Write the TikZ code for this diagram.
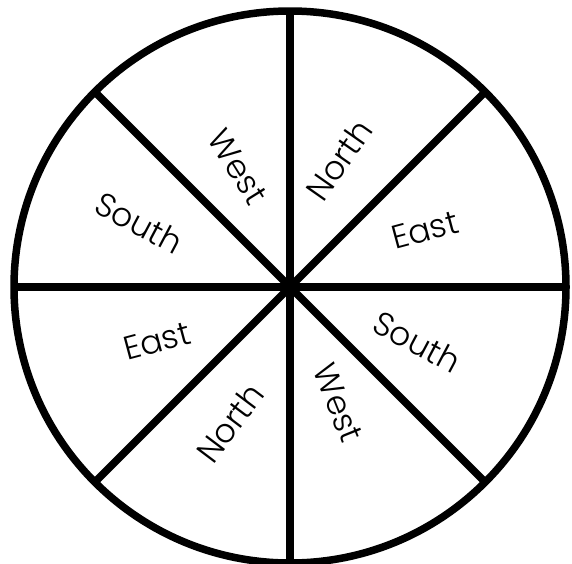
\documentclass[tikz,border=0pt]{standalone}
\usepackage{fontspec}
\setmainfont{Poppins}[UprightFont={* Light}]
\usepackage{tikz}
\usetikzlibrary{calc}

\begin{document}
\begin{tikzpicture}[
  x=1pt, y=-1pt,
  rim/.style={line width=7.5pt},
  spoke/.style={line width=7.5pt},
  word/.style={font=\fontsize{33}{36}\selectfont, inner sep=0pt},
]
  \useasboundingbox (0,0) rectangle (572,563);
  \coordinate (c) at (290,287);
  \draw[rim] (c) circle (276);
  \foreach \a in {0,45,...,315}
    \coordinate (e\a) at ($(c)+(\a:276)$);
  \foreach \a in {0,45,...,315}
    \draw[spoke] (c) -- (e\a);

  % labels, one per sector
  \node[word, rotate=-58] (westup) at (238,167) {West};
  \node[word, rotate=55] (northup) at (339,160) {North};
  \node[word, rotate=15] (eastrt) at (425,230) {East};
  \node[word, rotate=-28] (southrt) at (417,342) {South};
  \node[word, rotate=-28] (southlt) at (139,223) {South};
  \node[word, rotate=15] (eastlt) at (157,341) {East};
  \node[word, rotate=53] (northlo) at (230,423) {North};
  \node[word, rotate=-68] (westlo) at (338,403) {West};
\end{tikzpicture}
\end{document}
